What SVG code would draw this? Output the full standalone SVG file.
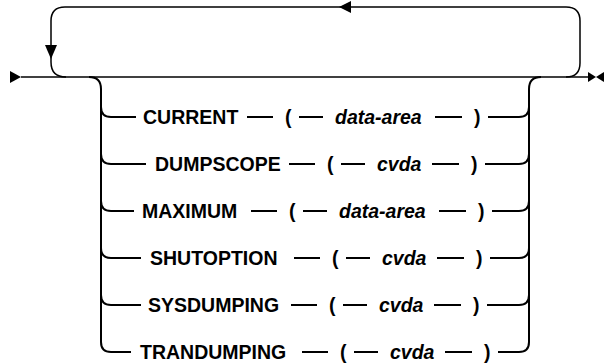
<svg xmlns="http://www.w3.org/2000/svg" width="605" height="363" viewBox="0 0 605 363">
<style>
.ln{fill:none;stroke:#000;stroke-width:2;stroke-linecap:butt}
.thin{fill:none;stroke:#000;stroke-width:1.5}
.ar{fill:#000;stroke:none}
.kw{font-family:"Liberation Sans",Arial,sans-serif;font-size:19.5px;font-weight:bold;fill:#000}
.var{font-family:"Liberation Sans",Arial,sans-serif;font-size:19.5px;font-weight:bold;font-style:italic;fill:#000}
</style>
<rect width="605" height="363" fill="#fff"/>
<g id="connectors">
<path class="thin" d="M21 77 H588"/>
<polygon class="ar" points="10,71 10,83 21,77"/>
<polygon class="ar" points="588,72 588,82 596,77"/>
<polygon class="ar" points="604,72 604,82 596,77"/>
<path class="thin" d="M66 77 Q51 77 51 62 V21 Q51 7 65 7 H566 Q580 7 580 21 V63 Q580 77 566 77"/>
<polygon class="ar" points="45,45 57,45 51,59"/>
<polygon class="ar" points="339,7 351,1 351,13"/>
<path class="ln" d="M89 77 Q101 77 101 89 V342 Q101 352 111 352"/>
<path class="ln" d="M529 89 Q529 77 541 77"/>
<path class="ln" d="M519 352 Q529 352 529 342 V89"/>
<path class="ln" d="M101 107 Q101 117 111 117 H136 M247 117 H273 M299 117 H323 M435 117 H462 M488 117 H519 Q529 117 529 107"/>
<path class="ln" d="M101 154 Q101 164 111 164 H146 M289 164 H315 M341 164 H365 M432 164 H459 M485 164 H519 Q529 164 529 154"/>
<path class="ln" d="M101 201 Q101 211 111 211 H134 M251 211 H277 M303 211 H327 M439 211 H466 M492 211 H519 Q529 211 529 201"/>
<path class="ln" d="M101 248 Q101 258 111 258 H141 M294 258 H320 M346 258 H370 M437 258 H464 M490 258 H519 Q529 258 529 248"/>
<path class="ln" d="M101 295 Q101 305 111 305 H141 M291 305 H317 M343 305 H367 M434 305 H461 M487 305 H519 Q529 305 529 295"/>
<path class="ln" d="M111 352 H131 M302 352 H328 M354 352 H378 M445 352 H472 M498 352 H519"/>
</g>
<g id="current"><text class="kw" x="143" y="124">CURRENT</text><text class="kw" x="285" y="124">(</text><text class="var" x="335" y="124">data-area</text><text class="kw" x="474" y="124">)</text></g>
<g id="dumpscope"><text class="kw" x="155" y="171">DUMPSCOPE</text><text class="kw" x="327" y="171">(</text><text class="var" x="377" y="171">cvda</text><text class="kw" x="471" y="171">)</text></g>
<g id="maximum"><text class="kw" x="142" y="218">MAXIMUM</text><text class="kw" x="289" y="218">(</text><text class="var" x="339" y="218">data-area</text><text class="kw" x="478" y="218">)</text></g>
<g id="shutoption"><text class="kw" x="150" y="265">SHUTOPTION</text><text class="kw" x="332" y="265">(</text><text class="var" x="382" y="265">cvda</text><text class="kw" x="476" y="265">)</text></g>
<g id="sysdumping"><text class="kw" x="148" y="312">SYSDUMPING</text><text class="kw" x="329" y="312">(</text><text class="var" x="379" y="312">cvda</text><text class="kw" x="473" y="312">)</text></g>
<g id="trandumping"><text class="kw" x="140" y="359">TRANDUMPING</text><text class="kw" x="340" y="359">(</text><text class="var" x="390" y="359">cvda</text><text class="kw" x="484" y="359">)</text></g>
</svg>
